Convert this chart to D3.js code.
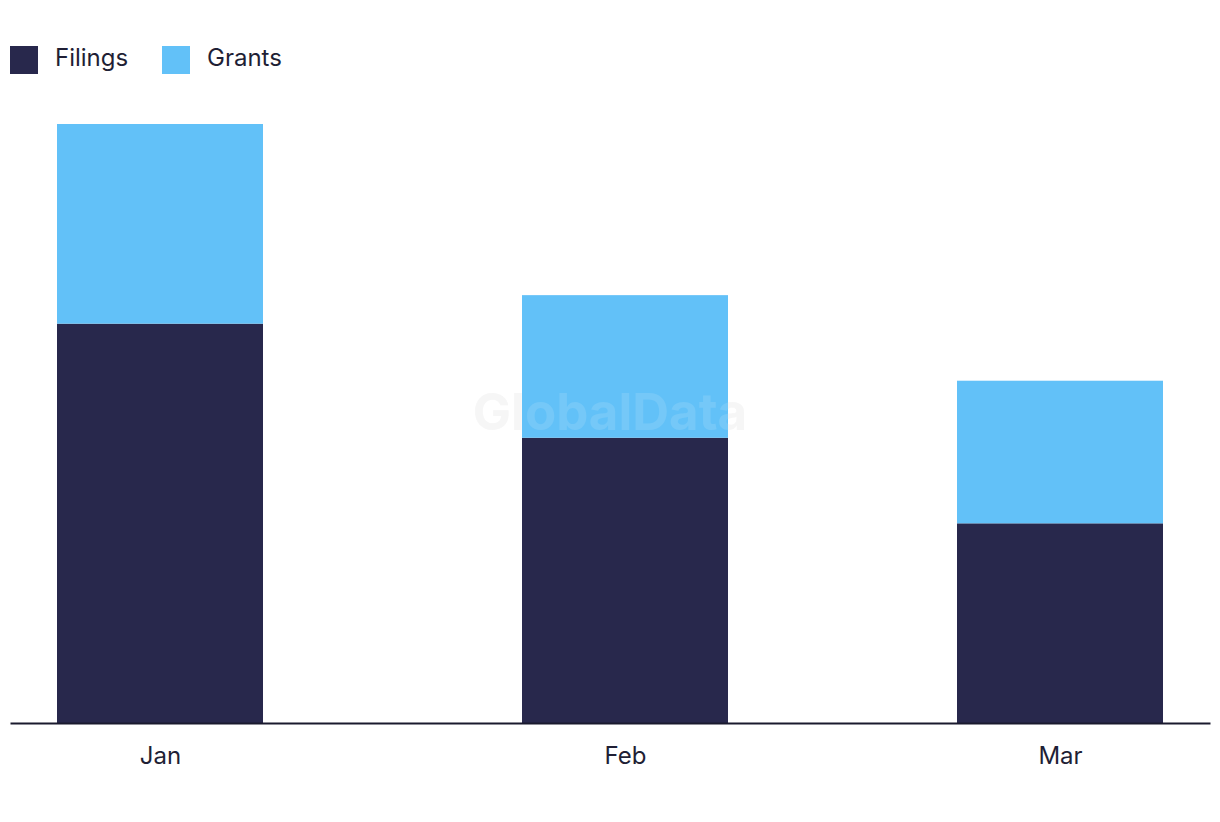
<!DOCTYPE html>
<html>
<head>
<meta charset="utf-8">
<script src="https://cdn.jsdelivr.net/npm/d3@7"></script>
<style>
html,body{margin:0;padding:0;background:#fff;}
svg{display:block;font-family:"Inter","Lato","Noto Sans",sans-serif;}
</style>
</head>
<body>
<svg id="chart" width="1220" height="822"></svg>
<script>
const months = ["Jan", "Feb", "Mar"];
const monthDates = ["2024-01-01", "2024-02-01", "2024-03-01"];
const filings = [28, 20, 14];
const grants = [14, 10, 10];
const seriesNames = ["Filings", "Grants"];
const seriesColors = ["#28284c", "#62c1f8"];

const svg = d3.select("#chart");
const left = 10, right = 1210, baseY = 723, topY = 124;
const barW = 206;

const dates = monthDates.map(d => new Date(d + "T00:00:00Z"));
const x = d3.scaleUtc()
  .domain([new Date("2023-12-22T00:00:00Z"), new Date("2024-03-11T00:00:00Z")])
  .range([left, right]);
const y = d3.scaleLinear().domain([0, 42]).range([baseY, topY]);

const data = months.map((m, i) => ({month: m, date: dates[i], Filings: filings[i], Grants: grants[i]}));
const stacked = d3.stack().keys(seriesNames)(data);

// watermark (behind)
svg.append("text")
  .attr("x", 610).attr("y", 430)
  .attr("text-anchor", "middle")
  .attr("font-family", "Inter, Roboto, sans-serif")
  .attr("font-weight", 700)
  .attr("font-size", 51)
  .attr("fill", "#e8e8e8")
  .attr("fill-opacity", 0.45)
  .text("GlobalData");

const g = svg.append("g");
stacked.forEach((s, si) => {
  g.selectAll(null).data(s).enter().append("rect")
    .attr("x", d => x(d.data.date) - barW / 2)
    .attr("y", d => y(d[1]))
    .attr("width", barW)
    .attr("height", d => y(d[0]) - y(d[1]))
    .attr("fill", seriesColors[si]);
});

// watermark (over bars, faint)
svg.append("text")
  .attr("x", 610).attr("y", 430)
  .attr("text-anchor", "middle")
  .attr("font-family", "Inter, Roboto, sans-serif")
  .attr("font-weight", 700)
  .attr("font-size", 51)
  .attr("fill", "#ffffff")
  .attr("fill-opacity", 0.12)
  .text("GlobalData");

// axis
const xAxis = d3.axisBottom(x)
  .tickValues(dates)
  .tickFormat((d, i) => months[i])
  .tickSize(0)
  .tickPadding(24);
const ax = svg.append("g").attr("transform", `translate(0,${baseY})`).call(xAxis);
ax.select(".domain").attr("stroke", "#1a1a2e").attr("stroke-width", 2);
ax.selectAll("text")
  .attr("font-family", "Inter, Lato, sans-serif")
  .attr("font-size", 24)
  .attr("fill", "#1f1f35");

// legend
const legend = svg.append("g");
const legX = [10, 162];
seriesNames.forEach((n, i) => {
  legend.append("rect").attr("x", legX[i]).attr("y", 46).attr("width", 28).attr("height", 28).attr("fill", seriesColors[i]);
  legend.append("text").attr("x", legX[i] + 45).attr("y", 66)
    .attr("font-family", "Inter, Lato, sans-serif")
    .attr("font-size", 24)
    .attr("fill", "#1f1f35")
    .text(n);
});
</script>
</body>
</html>
